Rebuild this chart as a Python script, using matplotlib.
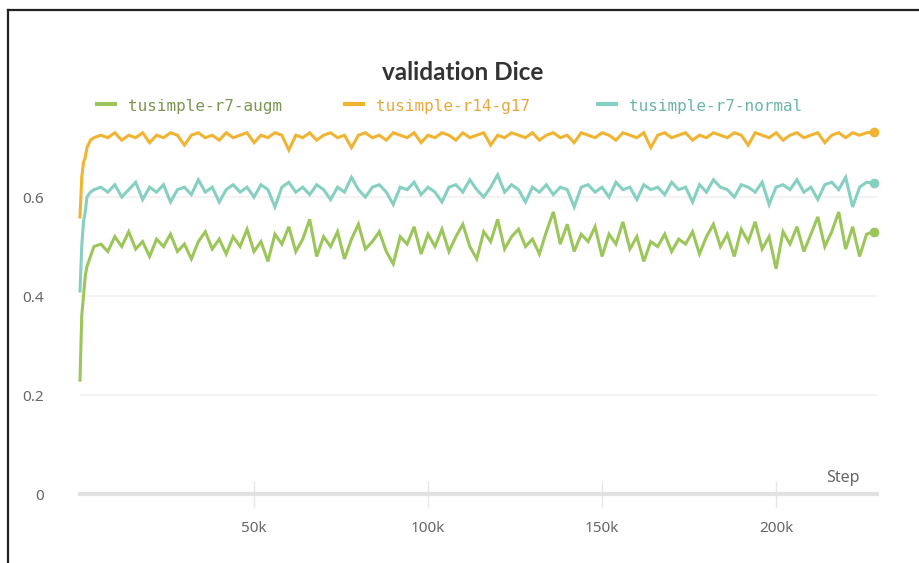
import matplotlib
matplotlib.use("Agg")
import matplotlib.pyplot as plt
from matplotlib.lines import Line2D
from matplotlib.ticker import FuncFormatter

# step values (thousands)
steps_k = [0, 0.5, 1, 1.5, 2, 3, 4,
           6, 8, 10, 12, 14, 16, 18, 20, 22, 24,
           26, 28, 30, 32, 34, 36, 38, 40, 42, 44,
           46, 48, 50, 52, 54, 56, 58, 60, 62, 64,
           66, 68, 70, 72, 74, 76, 78, 80, 82, 84,
           86, 88, 90, 92, 94, 96, 98, 100, 102, 104,
           106, 108, 110, 112, 114, 116, 118, 120, 122, 124,
           126, 128, 130, 132, 134, 136, 138, 140, 142, 144,
           146, 148, 150, 152, 154, 156, 158, 160, 162, 164,
           166, 168, 170, 172, 174, 176, 178, 180, 182, 184,
           186, 188, 190, 192, 194, 196, 198, 200, 202, 204,
           206, 208, 210, 212, 214, 216, 218, 220, 222, 224,
           226, 228]

augm = [0.23, 0.36, 0.40, 0.44, 0.46, 0.48, 0.50,
        0.505, 0.49, 0.52, 0.50, 0.53, 0.495, 0.51, 0.48, 0.515, 0.50,
        0.525, 0.49, 0.505, 0.475, 0.51, 0.53, 0.495, 0.515, 0.485, 0.52,
        0.50, 0.535, 0.49, 0.51, 0.47, 0.525, 0.505, 0.54, 0.49, 0.515,
        0.555, 0.48, 0.52, 0.50, 0.53, 0.475, 0.515, 0.545, 0.495, 0.51,
        0.53, 0.49, 0.465, 0.52, 0.505, 0.54, 0.485, 0.525, 0.50, 0.535,
        0.49, 0.52, 0.545, 0.50, 0.475, 0.53, 0.51, 0.555, 0.495, 0.52,
        0.535, 0.50, 0.515, 0.485, 0.53, 0.57, 0.505, 0.545, 0.49, 0.525,
        0.51, 0.54, 0.48, 0.525, 0.505, 0.55, 0.495, 0.52, 0.47, 0.51,
        0.50, 0.525, 0.49, 0.515, 0.505, 0.53, 0.485, 0.52, 0.545, 0.50,
        0.525, 0.48, 0.535, 0.51, 0.55, 0.495, 0.52, 0.455, 0.53, 0.505,
        0.54, 0.49, 0.525, 0.56, 0.50, 0.53, 0.57, 0.495, 0.54, 0.48,
        0.525, 0.53]

r14 = [0.56, 0.64, 0.67, 0.68, 0.70, 0.715, 0.72,
       0.725, 0.72, 0.73, 0.715, 0.725, 0.72, 0.73, 0.71, 0.725, 0.72,
       0.73, 0.725, 0.705, 0.725, 0.73, 0.72, 0.725, 0.715, 0.73, 0.72,
       0.725, 0.73, 0.71, 0.725, 0.72, 0.73, 0.725, 0.695, 0.725, 0.72,
       0.73, 0.715, 0.725, 0.73, 0.72, 0.725, 0.70, 0.725, 0.73, 0.72,
       0.725, 0.715, 0.73, 0.725, 0.72, 0.73, 0.71, 0.725, 0.72, 0.73,
       0.725, 0.715, 0.73, 0.72, 0.725, 0.73, 0.705, 0.725, 0.72, 0.73,
       0.725, 0.72, 0.73, 0.715, 0.725, 0.73, 0.72, 0.725, 0.71, 0.73,
       0.725, 0.72, 0.73, 0.725, 0.715, 0.73, 0.725, 0.72, 0.73, 0.70,
       0.725, 0.73, 0.72, 0.725, 0.73, 0.715, 0.725, 0.72, 0.73, 0.725,
       0.72, 0.73, 0.725, 0.705, 0.73, 0.725, 0.72, 0.73, 0.715, 0.725,
       0.73, 0.72, 0.725, 0.73, 0.71, 0.725, 0.73, 0.72, 0.73, 0.725,
       0.73, 0.731]

normal = [0.41, 0.50, 0.55, 0.57, 0.60, 0.61, 0.615,
          0.62, 0.61, 0.625, 0.60, 0.615, 0.63, 0.595, 0.62, 0.61, 0.625,
          0.59, 0.615, 0.62, 0.605, 0.635, 0.61, 0.62, 0.59, 0.615, 0.625,
          0.61, 0.62, 0.60, 0.625, 0.615, 0.58, 0.62, 0.63, 0.61, 0.62,
          0.605, 0.625, 0.615, 0.595, 0.62, 0.61, 0.64, 0.615, 0.60, 0.62,
          0.625, 0.61, 0.585, 0.62, 0.615, 0.63, 0.605, 0.62, 0.61, 0.59,
          0.62, 0.625, 0.61, 0.635, 0.615, 0.60, 0.62, 0.645, 0.61, 0.625,
          0.615, 0.59, 0.62, 0.61, 0.625, 0.605, 0.62, 0.615, 0.58, 0.62,
          0.625, 0.61, 0.62, 0.60, 0.63, 0.615, 0.62, 0.595, 0.625, 0.615,
          0.62, 0.605, 0.63, 0.615, 0.62, 0.59, 0.625, 0.61, 0.635, 0.62,
          0.615, 0.60, 0.625, 0.62, 0.61, 0.63, 0.585, 0.62, 0.625, 0.615,
          0.635, 0.61, 0.62, 0.595, 0.625, 0.63, 0.615, 0.64, 0.58, 0.62,
          0.63, 0.628]

names = ["tusimple-r7-augm", "tusimple-r14-g17", "tusimple-r7-normal"]
line_colors = ["#9cc65a", "#f0b432", "#86d0c1"]
text_colors = ["#7d9650", "#e9a93a", "#6db5a8"]
series = [augm, r14, normal]

steps = [s * 1000 for s in steps_k]

fig = plt.figure(figsize=(9.2, 5.63), dpi=100)
ax = fig.add_axes([80 / 920, 1 - 494 / 563, 797 / 920, 386 / 563])

for vals, c in zip(series, line_colors):
    ax.plot(steps, vals, color=c, lw=2.2, solid_joinstyle="miter", clip_on=False)
    ax.plot(steps[-1], vals[-1], "o", color=c, ms=6, clip_on=False)

ax.set_xlim(0, 229000)
ax.set_ylim(0, 0.78)

for s in ["top", "right", "left"]:
    ax.spines[s].set_visible(False)
ax.spines["bottom"].set_color("#e2e2e2")
ax.spines["bottom"].set_linewidth(3)

ax.set_yticks([0, 0.2, 0.4, 0.6])
ax.set_yticklabels(["0", "0.2", "0.4", "0.6"])
ax.set_xticks([50000, 100000, 150000, 200000])
ax.xaxis.set_major_formatter(FuncFormatter(lambda v, p: f"{int(v / 1000)}k"))
for y in [0.2, 0.4, 0.6]:
    ax.axhline(y, color="#f3f3f3", lw=1.5, zorder=0)

ax.tick_params(axis="y", length=0, pad=26, labelsize=11, labelcolor="#666666")
ax.tick_params(axis="x", direction="inout", length=19, width=1, color="#e6e6e6",
               pad=10, labelsize=11, labelcolor="#666666")
for lab in ax.get_xticklabels() + ax.get_yticklabels():
    lab.set_fontfamily("Noto Sans")

ax.text(843 / 920, 1 - 478 / 563, "Step", transform=fig.transFigure,
        ha="center", va="center", fontsize=11.5, color="#666666", family="Noto Sans")

fig.text(463 / 920, 1 - 72 / 563, "validation Dice", ha="center", va="center",
         fontsize=17.5, fontweight="bold", color="#333333", family="Lato")

# legend
leg_x = [97, 345, 598]
for x0, name, lc, tc in zip(leg_x, names, line_colors, text_colors):
    fig.add_artist(Line2D([x0 / 920, (x0 + 18) / 920], [1 - 104 / 563] * 2,
                          color=lc, lw=3, transform=fig.transFigure))
    fig.text((x0 + 31) / 920, 1 - 106 / 563, name, ha="left", va="center",
             fontsize=11.5, color=tc, family="DejaVu Sans Mono")

# screenshot frame
fig.add_artist(Line2D([8 / 920, 1], [1 - 10 / 563] * 2, color="#222222", lw=1.6,
                      transform=fig.transFigure))
fig.add_artist(Line2D([8 / 920] * 2, [0, 1 - 10 / 563], color="#222222", lw=1.6,
                      transform=fig.transFigure))

fig.savefig("out.png", dpi=100)
